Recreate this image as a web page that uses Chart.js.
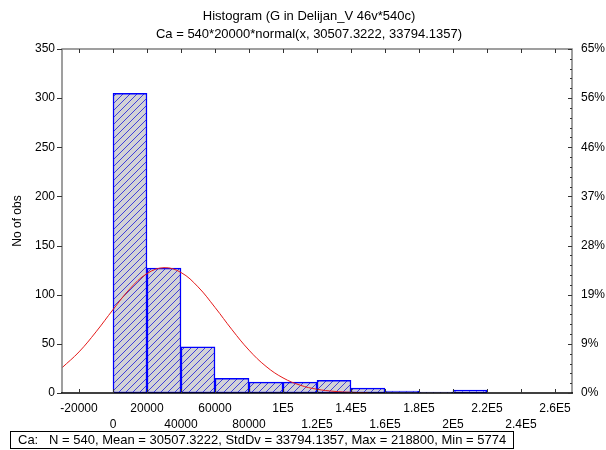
<!DOCTYPE html>
<html>
<head>
<meta charset="utf-8">
<script src="https://cdn.jsdelivr.net/npm/chart.js@4.4.1/dist/chart.umd.min.js"></script>
<style>
  html, body { margin: 0; padding: 0; background: #fff; }
  #wrap { position: relative; width: 606px; height: 450px; }
</style>
</head>
<body>
<div id="wrap"><canvas id="c" width="606" height="450"></canvas></div>
<script>
// Histogram bins (lower edges, width 20000) and observed counts
const binStarts = [0, 20000, 40000, 60000, 80000, 100000, 120000, 140000, 160000, 180000, 200000];
const binWidth = 20000;
const counts = [305, 127, 47, 15, 11, 11, 13, 5, 2, 1, 3];

// Fitted normal curve, expected counts per bin read along x
const curveX = [-30000, -20000, -10000, 0, 10000, 20000, 30000, 40000, 50000, 60000,
                70000, 80000, 90000, 100000, 110000, 120000, 130000, 140000, 150000];
const curveY = [25.7, 41.8, 62.2, 84.8, 106.1, 121.5, 127.5, 122.6, 108.0, 87.1,
                64.4, 43.6, 27.1, 15.4, 8.0, 3.8, 1.7, 0.7, 0.3];

// Axis ticks and labels
const xTickValues = [-20000, 0, 20000, 40000, 60000, 80000, 100000, 120000, 140000,
                     160000, 180000, 200000, 220000, 240000, 260000];
const xTickLabels = ['-20000', '0', '20000', '40000', '60000', '80000', '1E5', '1.2E5', '1.4E5',
                     '1.6E5', '1.8E5', '2E5', '2.2E5', '2.4E5', '2.6E5'];
const yTickValues = [0, 50, 100, 150, 200, 250, 300, 350];
const pctTickLabels = ['0%', '9%', '19%', '28%', '37%', '46%', '56%', '65%'];

const titleText = 'Histogram (G in Delijan_V 46v*540c)';
const subtitleText = 'Ca = 540*20000*normal(x, 30507.3222, 33794.1357)';
const yAxisTitle = 'No of obs';
const footerText = 'Ca:   N = 540, Mean = 30507.3222, StdDv = 33794.1357, Max = 218800, Min = 5774';

const FONT = '"Liberation Sans", Arial, sans-serif';

// Grey fill with blue diagonal hatching for the bars
function makeHatch() {
  const s = 7;
  const t = document.createElement('canvas');
  t.width = s; t.height = s;
  const g = t.getContext('2d');
  g.fillStyle = '#d2d2d6';
  g.fillRect(0, 0, s, s);
  g.strokeStyle = '#4040d8';
  g.lineWidth = 1;
  g.beginPath();
  g.moveTo(0, s); g.lineTo(s, 0);
  g.moveTo(-1, 1); g.lineTo(1, -1);
  g.moveTo(s - 1, s + 1); g.lineTo(s + 1, s - 1);
  g.stroke();
  return g.createPattern(t, 'repeat');
}

const barData = binStarts.map((b, i) => ({ x: b + binWidth / 2, y: counts[i] }));
const curveData = curveX.map((x, i) => ({ x: x, y: curveY[i] }));

// Frame, tick marks and text around the plot
const decorations = {
  id: 'decorations',
  afterDatasetsDraw(chart) {
    const ctx = chart.ctx;
    const a = chart.chartArea;
    const xs = chart.scales.x, ys = chart.scales.y;
    ctx.save();
    // frame
    ctx.strokeStyle = '#808080';
    ctx.lineWidth = 1.5;
    ctx.beginPath();
    ctx.moveTo(a.left, a.bottom); ctx.lineTo(a.left, a.top);
    ctx.lineTo(a.right, a.top); ctx.lineTo(a.right, a.bottom);
    ctx.stroke();
    ctx.strokeStyle = '#000';
    ctx.beginPath();
    ctx.moveTo(a.left - 1, a.bottom); ctx.lineTo(a.right + 1, a.bottom);
    ctx.stroke();

    ctx.lineWidth = 1;
    ctx.strokeStyle = '#333';
    ctx.beginPath();
    // x ticks, inward on bottom and top
    xTickValues.forEach(v => {
      const px = Math.round(xs.getPixelForValue(v)) + 0.5;
      ctx.moveTo(px, a.bottom); ctx.lineTo(px, a.bottom - 4);
      ctx.moveTo(px, a.top); ctx.lineTo(px, a.top + 4);
    });
    // left ticks outward, right ticks inward
    yTickValues.forEach(v => {
      const py = Math.round(ys.getPixelForValue(v)) + 0.5;
      ctx.moveTo(a.left - 5, py); ctx.lineTo(a.left, py);
      ctx.moveTo(a.right, py); ctx.lineTo(a.right - 4, py);
    });
    // right minor ticks every 10
    for (let v = 10; v < 350; v += 10) {
      if (v % 50 === 0) continue;
      const py = Math.round(ys.getPixelForValue(v)) + 0.5;
      ctx.moveTo(a.right, py); ctx.lineTo(a.right - 2, py);
    }
    ctx.stroke();

    // titles
    ctx.fillStyle = '#000';
    ctx.font = '13px ' + FONT;
    ctx.textAlign = 'center';
    ctx.textBaseline = 'middle';
    ctx.fillText(titleText, 309, 16);
    ctx.fillText(subtitleText, 309, 34);

    // y axis title
    ctx.save();
    ctx.font = '12px ' + FONT;
    ctx.translate(18, (a.top + a.bottom) / 2);
    ctx.rotate(-Math.PI / 2);
    ctx.fillText(yAxisTitle, 0, 0);
    ctx.restore();

    // footer stats box
    ctx.strokeStyle = '#000';
    ctx.lineWidth = 1;
    ctx.strokeRect(10.5, 431.5, 503, 17);
    ctx.textAlign = 'left';
    ctx.fillText(footerText, 18, 440.5);
    ctx.restore();
  }
};

new Chart(document.getElementById('c'), {
  type: 'bar',
  data: {
    datasets: [
      {
        type: 'line',
        data: curveData,
        borderColor: '#e41a1a',
        borderWidth: 1,
        pointRadius: 0,
        tension: 0.4,
        fill: false,
        order: 0
      },
      {
        type: 'bar',
        data: barData,
        backgroundColor: makeHatch(),
        borderColor: '#0000ff',
        borderWidth: 1.5,
        borderSkipped: false,
        barPercentage: 1,
        categoryPercentage: 1,
        order: 1
      }
    ]
  },
  options: {
    responsive: false,
    animation: false,
    devicePixelRatio: 1,
    layout: { padding: { top: 49, left: 0, right: 0, bottom: 0 } },
    plugins: { legend: { display: false }, tooltip: { enabled: false }, title: { display: false } },
    scales: {
      x: {
        type: 'linear',
        offset: false,
        min: -30000,
        max: 270000,
        afterBuildTicks: s => { s.ticks = xTickValues.map(v => ({ value: v })); },
        afterFit: s => { s.height = 57; },
        grid: { display: false, drawTicks: false, offset: false },
        border: { display: false },
        ticks: {
          autoSkip: false,
          maxRotation: 0,
          minRotation: 0,
          padding: 8,
          color: '#000',
          font: { family: FONT, size: 12, lineHeight: 1.333 },
          callback: (v, i) => (i % 2 ? ['', xTickLabels[i]] : xTickLabels[i])
        }
      },
      y: {
        position: 'left',
        min: 0,
        max: 350,
        afterBuildTicks: s => { s.ticks = yTickValues.map(v => ({ value: v })); },
        afterFit: s => { s.width = 62; },
        grid: { display: false, drawTicks: false },
        border: { display: false },
        ticks: { padding: 7, color: '#000', font: { family: FONT, size: 12 } }
      },
      y2: {
        position: 'right',
        min: 0,
        max: 350,
        afterBuildTicks: s => { s.ticks = yTickValues.map(v => ({ value: v })); },
        afterFit: s => { s.width = 34; },
        grid: { display: false, drawTicks: false },
        border: { display: false },
        ticks: {
          padding: 9,
          color: '#000',
          font: { family: FONT, size: 12 },
          callback: (v, i) => pctTickLabels[i]
        }
      }
    }
  },
  plugins: [decorations]
});
</script>
</body>
</html>
